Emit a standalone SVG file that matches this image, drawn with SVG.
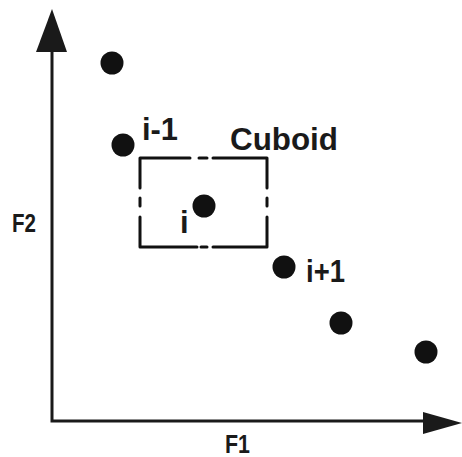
<svg xmlns="http://www.w3.org/2000/svg" width="462" height="457" viewBox="0 0 462 457">
<style>
.ax{stroke:#1a1a1a;stroke-width:3;fill:none}
.head{fill:#1a1a1a}
.pt{fill:#111}
.box{stroke:#111;stroke-width:3;fill:none;stroke-linecap:round;stroke-linejoin:round}
.lbl{font-family:"Liberation Sans","DejaVu Sans",sans-serif;font-weight:bold;fill:#1a1a1a}
</style>
<rect width="462" height="457" fill="#fff"/>
<g id="connectors">
<path class="ax" d="M52,48 V421 H426"/>
<polygon class="head" points="52,9 36,52 67,52"/>
<polygon class="head" points="462,423 423,412 423,434"/>
</g>
<g id="axis-labels">
<text class="lbl" x="12" y="232" font-size="25" textLength="24" lengthAdjust="spacingAndGlyphs">F2</text>
<text class="lbl" x="225" y="453" font-size="25" textLength="25" lengthAdjust="spacingAndGlyphs">F1</text>
</g>
<g id="cuboid">
<path class="box" d="M190,158 H140 V188 M140,198 V206 M140,217 V247 H197 M201,247 H207 M213,247 H267 V217 M267,206 V198 M267,188 V158 H213 M207,158 H199"/>
<text class="lbl" x="230" y="150" font-size="31" textLength="108" lengthAdjust="spacingAndGlyphs">Cuboid</text>
</g>
<g id="p1"><circle class="pt" cx="112" cy="63" r="11.5"/></g>
<g id="p-im1"><circle class="pt" cx="123" cy="145" r="11.5"/>
<text class="lbl" x="142" y="140" font-size="31" textLength="36" lengthAdjust="spacingAndGlyphs">i-1</text></g>
<g id="p-i"><circle class="pt" cx="204" cy="206" r="11.5"/>
<text class="lbl" x="180" y="233" font-size="31">i</text></g>
<g id="p-ip1"><circle class="pt" cx="284" cy="267" r="11.5"/>
<text class="lbl" x="306" y="282" font-size="31" textLength="39" lengthAdjust="spacingAndGlyphs">i+1</text></g>
<g id="p5"><circle class="pt" cx="341" cy="323" r="11.5"/></g>
<g id="p6"><circle class="pt" cx="426" cy="352" r="11.5"/></g>
</svg>
